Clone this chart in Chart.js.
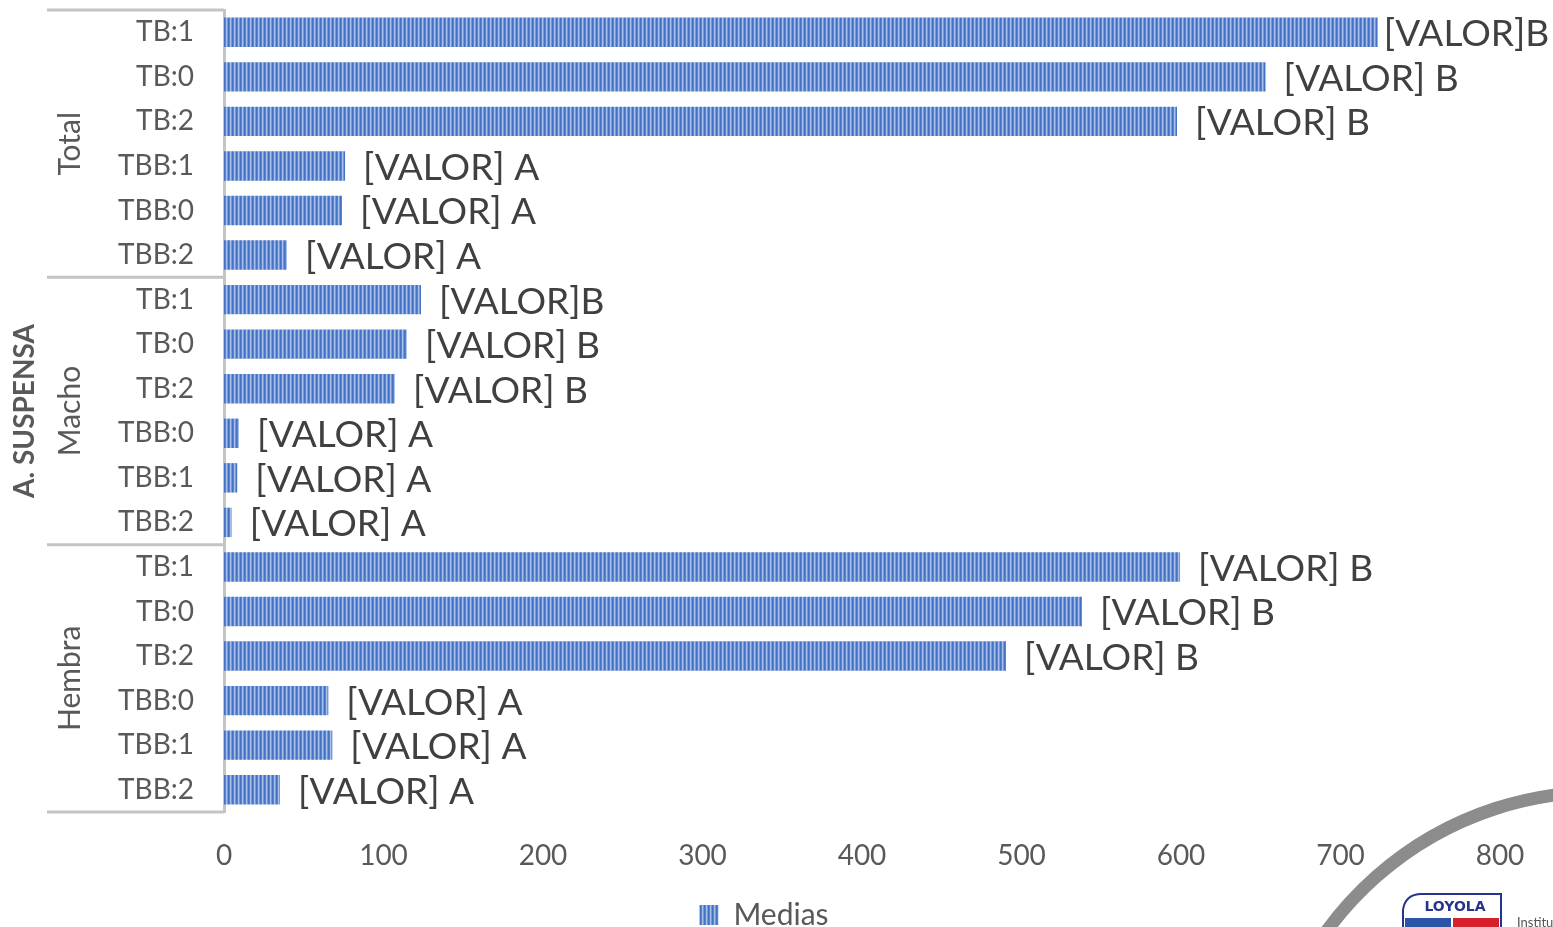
<!DOCTYPE html>
<html>
<head>
<meta charset="utf-8">
<script src="https://cdn.jsdelivr.net/npm/chart.js@4.4.1/dist/chart.umd.min.js"></script>
<style>
  html, body { margin: 0; padding: 0; background: #ffffff; }
  #wrap { width: 1553px; height: 927px; position: relative; }
</style>
</head>
<body>
<div id="wrap"><canvas id="chart" width="1553" height="927"></canvas></div>
<script>
// Category labels (inner level) and their groups (outer levels)
const categories = [
  'TB:1', 'TB:0', 'TB:2', 'TBB:1', 'TBB:0', 'TBB:2',
  'TB:1', 'TB:0', 'TB:2', 'TBB:0', 'TBB:1', 'TBB:2',
  'TB:1', 'TB:0', 'TB:2', 'TBB:0', 'TBB:1', 'TBB:2'
];
const groups = ['Total', 'Macho', 'Hembra'];
const groupSize = [6, 6, 6];
const outerGroup = 'A. SUSPENSA';

// Mean values per category
const medias = [
  723.3, 653.0, 597.5, 75.9, 74.0, 39.5,
  123.5, 114.7, 107.2, 9.4, 8.3, 4.8,
  599.4, 537.9, 490.3, 65.4, 67.9, 35.1
];

// Text shown next to each bar
const valueLabels = [
  '[VALOR]B', '[VALOR] B', '[VALOR] B', '[VALOR] A', '[VALOR] A', '[VALOR] A',
  '[VALOR]B', '[VALOR] B', '[VALOR] B', '[VALOR] A', '[VALOR] A', '[VALOR] A',
  '[VALOR] B', '[VALOR] B', '[VALOR] B', '[VALOR] A', '[VALOR] A', '[VALOR] A'
];

const xTicks = [0, 100, 200, 300, 400, 500, 600, 700, 800];

const FONT = 'Lato, "Open Sans", sans-serif';
const GREY_TEXT = '#595959';
const LINE_GREY = '#c4c4c4';

// Vertical-stripe fill for the bars
function stripePattern() {
  const c = document.createElement('canvas');
  c.width = 4; c.height = 4;
  const g = c.getContext('2d');
  const cols = ['#4472c4', '#5a83cf', '#a8bfe9', '#7896d8'];
  cols.forEach((col, i) => { g.fillStyle = col; g.fillRect(i, 0, 1, 4); });
  return g.createPattern(c, 'repeat');
}

// Text labels at the end of each bar
const barLabels = {
  id: 'barLabels',
  afterDatasetsDraw(chart) {
    const ctx = chart.ctx;
    const meta = chart.getDatasetMeta(0);
    ctx.save();
    ctx.font = '37px ' + FONT;
    ctx.fillStyle = '#404040';
    ctx.textBaseline = 'middle';
    meta.data.forEach((bar, i) => {
      const txt = valueLabels[i];
      const w = ctx.measureText(txt).width;
      let x = bar.x + 18;
      const maxX = chart.width - 8;
      if (x + w > maxX) x = Math.max(bar.x + 6, maxX - w);
      ctx.fillText(txt, x, bar.y + 2);
    });
    ctx.restore();
  }
};

// Multi-level category axis: separators and rotated group names
const groupAxis = {
  id: 'groupAxis',
  afterDraw(chart) {
    const ctx = chart.ctx;
    const y = chart.scales.y;
    const area = chart.chartArea;
    const left = 47;
    const step = (y.getPixelForValue(1) - y.getPixelForValue(0));
    ctx.save();
    ctx.strokeStyle = LINE_GREY;
    ctx.lineWidth = 3;
    let start = 0;
    const bounds = [area.top];
    groupSize.forEach(n => {
      start += n;
      bounds.push(y.getPixelForValue(start - 1) + step / 2);
    });
    bounds.forEach(b => {
      ctx.beginPath();
      ctx.moveTo(left, b);
      ctx.lineTo(area.left, b);
      ctx.stroke();
    });
    ctx.fillStyle = GREY_TEXT;
    ctx.textAlign = 'center';
    ctx.textBaseline = 'middle';
    ctx.font = '30px ' + FONT;
    groups.forEach((g, i) => {
      const cy = (bounds[i] + bounds[i + 1]) / 2;
      ctx.save();
      ctx.translate(70, cy);
      ctx.rotate(-Math.PI / 2);
      ctx.fillText(g, 0, 0);
      ctx.restore();
    });
    ctx.font = 'bold 28px ' + FONT;
    ctx.save();
    ctx.translate(25, (bounds[0] + bounds[bounds.length - 1]) / 2);
    ctx.rotate(-Math.PI / 2);
    ctx.fillText(outerGroup, 0, 0);
    ctx.restore();
    ctx.restore();
  }
};

// Keep the legend centred under the whole page rather than the plot box
const legendShift = {
  id: 'legendShift',
  afterLayout(chart) {
    const lg = chart.legend;
    if (lg) { lg.left += 14; lg.right += 14; }
  }
};

// Institutional mark in the lower right corner
const cornerMark = {
  id: 'cornerMark',
  afterDraw(chart) {
    const ctx = chart.ctx;
    ctx.save();
    ctx.strokeStyle = '#8c8c8c';
    ctx.lineWidth = 13;
    ctx.beginPath();
    ctx.arc(1600, 1130, 338, Math.PI * 1.02, Math.PI * 1.6);
    ctx.stroke();
    // shield
    ctx.fillStyle = '#ffffff';
    ctx.strokeStyle = '#27348b';
    ctx.lineWidth = 2;
    ctx.beginPath();
    ctx.moveTo(1403, 935);
    ctx.lineTo(1403, 910);
    ctx.quadraticCurveTo(1405, 895, 1420, 894);
    ctx.lineTo(1501, 894);
    ctx.lineTo(1501, 935);
    ctx.closePath();
    ctx.fill();
    ctx.stroke();
    ctx.fillStyle = '#2a55a8';
    ctx.fillRect(1405, 918, 46, 12);
    ctx.fillStyle = '#d6202b';
    ctx.fillRect(1453, 918, 46, 12);
    ctx.fillStyle = '#27348b';
    ctx.font = 'bold 14px "DejaVu Sans", sans-serif';
    ctx.textAlign = 'center';
    ctx.textBaseline = 'middle';
    ctx.fillText('LOYOLA', 1455, 907);
    ctx.fillStyle = '#555555';
    ctx.font = '13px ' + FONT;
    ctx.textAlign = 'left';
    ctx.fillText('Instituto', 1517, 923);
    ctx.restore();
  }
};

new Chart(document.getElementById('chart'), {
  type: 'bar',
  data: {
    labels: categories,
    datasets: [{
      label: 'Medias',
      data: medias,
      backgroundColor: stripePattern(),
      borderWidth: 0,
      barPercentage: 0.66,
      categoryPercentage: 1.0
    }]
  },
  options: {
    indexAxis: 'y',
    responsive: false,
    animation: false,
    layout: { padding: { left: 0, right: 53, top: 10, bottom: -13 } },
    scales: {
      x: {
        min: 0,
        max: 800,
        afterBuildTicks(scale) { scale.ticks = xTicks.map(v => ({ value: v })); },
        grid: { display: false, drawTicks: false },
        border: { display: false },
        ticks: {
          color: GREY_TEXT,
          font: { family: FONT, size: 28 },
          padding: 27,
          maxRotation: 0
        },
        afterFit(scale) { scale.height = 80; }
      },
      y: {
        grid: { display: false, drawTicks: false },
        border: { display: true, color: LINE_GREY, width: 3 },
        ticks: {
          color: GREY_TEXT,
          font: { family: FONT, size: 28 },
          padding: 30,
          autoSkip: false
        },
        afterFit(scale) {
          scale.width = 224;
          scale.paddingTop = 0;
          scale.paddingBottom = 0;
        }
      }
    },
    plugins: {
      legend: {
        position: 'bottom',
        labels: {
          color: GREY_TEXT,
          font: { family: FONT, size: 30 },
          boxWidth: 19,
          boxHeight: 20,
          padding: 8
        }
      },
      tooltip: { enabled: false }
    }
  },
  plugins: [barLabels, groupAxis, legendShift, cornerMark]
});
</script>
</body>
</html>
